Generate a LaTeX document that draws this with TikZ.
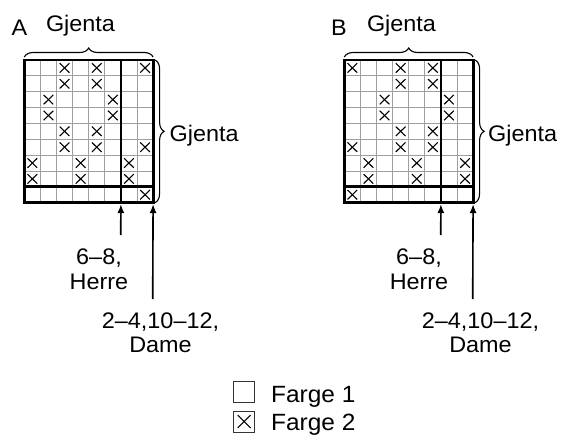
\documentclass[tikz,border=0pt]{standalone}
\usepackage{fontspec}
\setmainfont{Liberation Sans}[FakeStretch=1.04]
\usetikzlibrary{calc}
\usetikzlibrary{arrows.meta}
\usetikzlibrary{decorations.pathreplacing}

% cell size of the chart (picture units)
\newcommand{\cw}{16.1}
\newcommand{\ch}{15.85}

% one crossed cell, column #1 and row #2, counted from top left
\newcommand{\crosscell}[2]{%
    \draw[cross] ({(#1-1)*\cw+3.2},{(#2-1)*\ch+3.2}) -- ({#1*\cw-3.2},{#2*\ch-3.2});
    \draw[cross] ({(#1-1)*\cw+3.2},{#2*\ch-3.2}) -- ({#1*\cw-3.2},{(#2-1)*\ch+3.2});}

% empty chart 8 x 9 with the repeat lines
\newcommand{\chartlines}{%
    \foreach \i in {1,...,7} \draw[thinline] ({\i*\cw},0) -- ({\i*\cw},{9*\ch});
    \foreach \j in {1,...,8} \draw[thinline] (0,{\j*\ch}) -- ({8*\cw},{\j*\ch});}

\newcommand{\chartframe}{%
    \draw[thickline] (0,0) rectangle ({8*\cw},{9*\ch});
    \draw[thickline] ({6*\cw},0) -- ({6*\cw},{9*\ch});
    \draw[thickline] (0,{8*\ch}) -- ({8*\cw},{8*\ch});}

\begin{document}
\begin{tikzpicture}[x=1pt, y=-1pt,
    thinline/.style={gray!75, line width=0.8pt},
    thickline/.style={black, line width=2.8pt},
    cross/.style={black, line width=1.1pt},
    brace/.style={decorate, decoration={brace, amplitude=9pt}, line width=1.1pt},
    pointer/.style={-{Latex[length=9pt, width=7pt]}, line width=1.6pt},
    txt/.style={font=\fontsize{22.5}{24.2}\selectfont, inner sep=0pt, align=center, anchor=base},
    legendtxt/.style={font=\fontsize{23.5}{25}\selectfont, inner sep=0pt, anchor=base west},
    legendbox/.style={draw=black!80, line width=0.8pt, minimum size=21pt, inner sep=0pt}]

    \useasboundingbox (0,0) rectangle (561,436);

    % chart A
    \begin{scope}[shift={(24.3,60)}]
        \chartlines
        \crosscell{3}{1} \crosscell{5}{1} \crosscell{8}{1}
        \crosscell{3}{2} \crosscell{5}{2}
        \crosscell{2}{3} \crosscell{6}{3}
        \crosscell{2}{4} \crosscell{6}{4}
        \crosscell{3}{5} \crosscell{5}{5}
        \crosscell{3}{6} \crosscell{5}{6} \crosscell{8}{6}
        \crosscell{1}{7} \crosscell{4}{7} \crosscell{7}{7}
        \crosscell{1}{8} \crosscell{4}{8} \crosscell{7}{8}
        \crosscell{8}{9}
        \chartframe

        \coordinate (A-herre) at ({6*\cw},{9*\ch+1.4});
        \coordinate (A-dame) at ({8*\cw},{9*\ch+1.4});
        \draw[brace] (0,-3) -- ({8*\cw},-3);
        \draw[brace] ({8*\cw+2},0) -- ({8*\cw+2},{9*\ch});
    \end{scope}

    % chart B
    \begin{scope}[shift={(344.3,60)}]
        \chartlines
        \crosscell{1}{1} \crosscell{4}{1} \crosscell{6}{1}
        \crosscell{4}{2} \crosscell{6}{2}
        \crosscell{3}{3} \crosscell{7}{3}
        \crosscell{3}{4} \crosscell{7}{4}
        \crosscell{4}{5} \crosscell{6}{5}
        \crosscell{1}{6} \crosscell{4}{6} \crosscell{6}{6}
        \crosscell{2}{7} \crosscell{5}{7} \crosscell{8}{7}
        \crosscell{2}{8} \crosscell{5}{8} \crosscell{8}{8}
        \crosscell{1}{9}
        \chartframe

        \coordinate (B-herre) at ({6*\cw},{9*\ch+1.4});
        \coordinate (B-dame) at ({8*\cw},{9*\ch+1.4});
        \draw[brace] (0,-3) -- ({8*\cw},-3);
        \draw[brace] ({8*\cw+2},0) -- ({8*\cw+2},{9*\ch});
    \end{scope}

    % titles
    \node[txt] (A-title) at (19.5,35) {A};
    \node[txt] (A-top) at (80.5,32) {Gjenta};
    \node[txt, anchor=base west] (A-side) at (169.5,141.5) {Gjenta};
    \node[txt] (B-title) at (339,35) {B};
    \node[txt] (B-top) at (401.5,32) {Gjenta};
    \node[txt, anchor=base west] (B-side) at (488,141.5) {Gjenta};

    % size arrows
    \coordinate (A-herre-tail) at (120.7,235);
    \coordinate (A-dame-tail) at (152.7,299);
    \coordinate (B-herre-tail) at (440.7,235);
    \coordinate (B-dame-tail) at (472.7,299);
    \draw[pointer] (A-herre-tail) -- (A-herre);
    \draw[pointer] (A-dame-tail) -- (A-dame);
    \draw[pointer] (B-herre-tail) -- (B-herre);
    \draw[pointer] (B-dame-tail) -- (B-dame);

    % base anchor = baseline of the last line
    \node[txt] (A-herre-lbl) at (99,289) {6–8,\\Herre};
    \node[txt] (A-dame-lbl) at (160.5,352.7) {2–4,10–12,\\Dame};
    \node[txt] (B-herre-lbl) at (419,289) {6–8,\\Herre};
    \node[txt] (B-dame-lbl) at (480.5,352.7) {2–4,10–12,\\Dame};

    % legend
    \node[legendbox] (farge1) at (244.2,391.5) {};
    \node[legendbox] (farge2) at (244.2,421.5) {};
    \draw[cross] ($(farge2.north west)+(4.5,4.5)$) -- ($(farge2.south east)+(-4.5,-4.5)$);
    \draw[cross] ($(farge2.south west)+(4.5,-4.5)$) -- ($(farge2.north east)+(-4.5,4.5)$);
    \node[legendtxt] (farge1-lbl) at (271,402) {Farge 1};
    \node[legendtxt] (farge2-lbl) at (271,430.5) {Farge 2};
\end{tikzpicture}
\end{document}
